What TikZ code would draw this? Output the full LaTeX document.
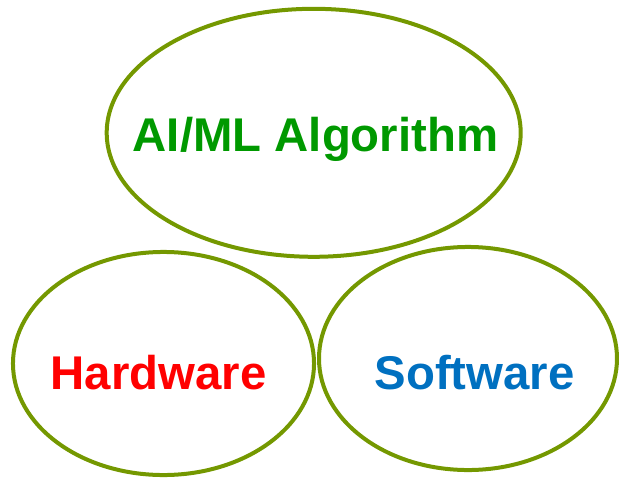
\documentclass[tikz,border=0pt]{standalone}
\usepackage{fontspec}
\setmainfont{Liberation Sans}
\usepackage{xcolor}
\usetikzlibrary{shapes.geometric}
\definecolor{rim}{HTML}{749800}
\definecolor{algogreen}{HTML}{009900}
\definecolor{hwred}{HTML}{FF0000}
\definecolor{swblue}{HTML}{0070C0}
\tikzset{
  blob/.style={ellipse,draw=rim,line width=3pt,inner sep=0pt,outer sep=0pt},
  word/.style={anchor=base,inner sep=0pt,
               font=\fontsize{35.5}{40}\selectfont\bfseries}
}
\begin{document}
\begin{tikzpicture}[x=0.75pt,y=-0.75pt]
  \useasboundingbox (0,0) rectangle (619,479);
  % the three rings
  \node[blob,minimum width=310.5pt,minimum height=186pt] (algo) at (313.7,132.8) {};
  \node[blob,minimum width=225.8pt,minimum height=167.3pt] (hw) at (163.5,363.5) {};
  \node[blob,minimum width=223.5pt,minimum height=167.3pt] (sw) at (468,358.5) {};
  % their words
  \node[word,text=algogreen] (algotext) at (315.5,151) {AI/ML Algorithm};
  \node[word,text=hwred] (hwtext) at (158.5,389) {Hardware};
  \node[word,text=swblue] (swtext) at (474.5,389) {Software};
\end{tikzpicture}
\end{document}
